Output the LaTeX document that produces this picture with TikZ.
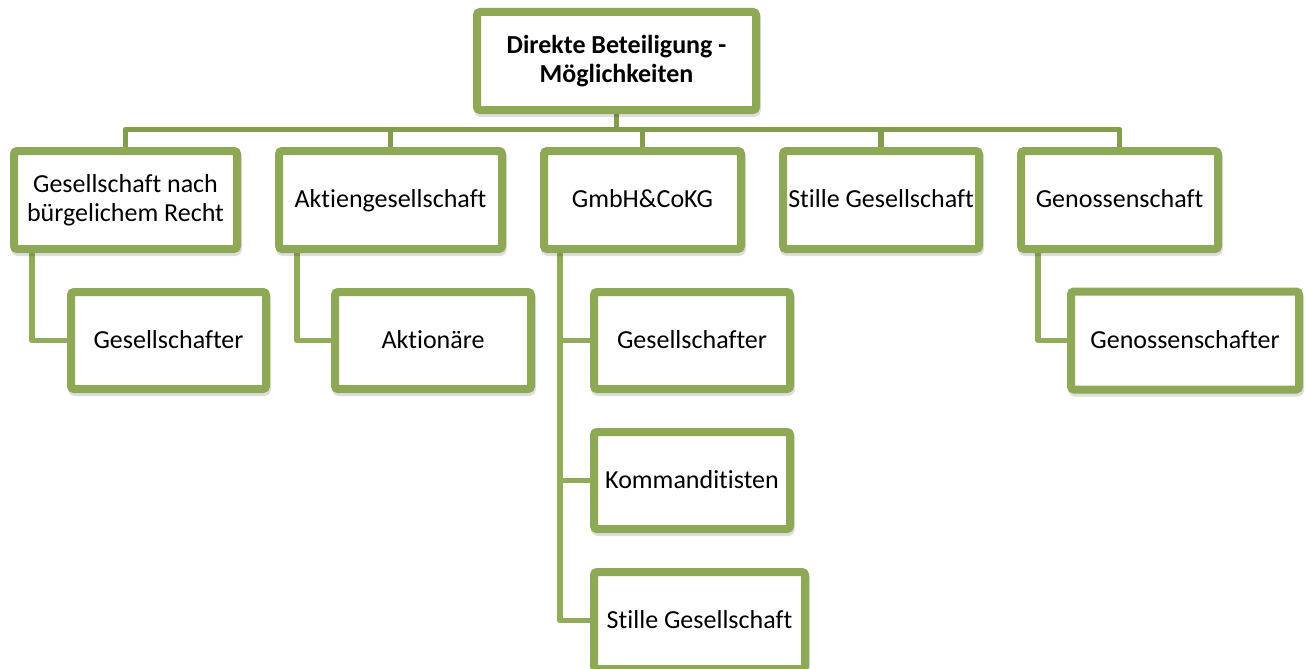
\documentclass[tikz,border=0pt]{standalone}
\usepackage{fontspec}
\setmainfont{Carlito}[Ligatures=NoCommon]
\usetikzlibrary{backgrounds,calc}
\definecolor{boxgreen}{HTML}{8DA955}
\definecolor{busgreen}{HTML}{829D4B}
\definecolor{linkgreen}{HTML}{90AC58}
\tikzset{
  orgbox/.style={draw=boxgreen, line width=8pt, fill=white, rounded corners=3pt,
    inner sep=0pt, align=center, font=\fontsize{26}{29}\selectfont,
    preaction={draw=black, draw opacity=0.13, line width=8pt,
      transform canvas={shift={(1pt,-3pt)}}}},
  oneline/.style={text height=18pt, text depth=2.5pt},
  busline/.style={draw=busgreen, line width=5.5pt, line join=round},
  childline/.style={draw=linkgreen, line width=5.5pt, line join=round},
}
\begin{document}
\begin{tikzpicture}[x=1pt,y=-1pt]
\clip (0,0) rectangle (1307,669);
% nodes
\node[orgbox, minimum width=279pt, minimum height=98pt, font=\fontsize{26}{29}\selectfont\bfseries] (top) at (616.5,61) {Direkte Beteiligung -\\Möglichkeiten};
\node[orgbox, minimum width=223pt, minimum height=98pt] (a1) at (125.5,200) {Gesellschaft nach\\bürgelichem Recht};
\node[orgbox, oneline, minimum width=223pt, minimum height=98pt] (a2) at (390.5,200) {Aktiengesellschaft};
\node[orgbox, oneline, minimum width=197pt, minimum height=98pt] (a3) at (642.5,200) {GmbH\&CoKG};
\node[orgbox, oneline, minimum width=196pt, minimum height=98pt] (a4) at (881,200) {Stille Gesellschaft};
\node[orgbox, oneline, minimum width=197pt, minimum height=98pt] (a5) at (1119.5,200) {Genossenschaft};
\node[orgbox, oneline, minimum width=195pt, minimum height=97pt] (b1) at (168.5,340.5) {Gesellschafter};
\node[orgbox, oneline, minimum width=196pt, minimum height=97pt] (b2) at (433,340.5) {Aktionäre};
\node[orgbox, oneline, minimum width=196pt, minimum height=97pt] (c1) at (692,340.5) {Gesellschafter};
\node[orgbox, oneline, minimum width=196pt, minimum height=97pt] (c2) at (692,480.5) {Kommanditisten};
\node[orgbox, oneline, minimum width=211pt, minimum height=97pt] (c3) at (699.5,620.5) {Stille Gesellschaft};
\node[orgbox, oneline, minimum width=228pt, minimum height=98pt] (d1) at (1185,340.5) {Genossenschafter};
% connectors
\begin{scope}[on background layer]
\fill[white] (0,0) rectangle (1307,669);
\coordinate (bus) at (0,129.5);
\draw[busline] (top.south) -- (top.south |- bus);
\draw[busline] (a1.north) -- (a1.north |- bus) -- (a5.north |- bus) -- (a5.north);
\draw[busline] (a2.north) -- (a2.north |- bus);
\draw[busline] (a3.north) -- (a3.north |- bus);
\draw[busline] (a4.north) -- (a4.north |- bus);
\coordinate (s1) at ([xshift=22pt]a1.south west);
\coordinate (s2) at ([xshift=22pt]a2.south west);
\coordinate (s3) at ([xshift=20pt]a3.south west);
\coordinate (s5) at ([xshift=21pt]a5.south west);
\draw[childline] (s1) |- (b1.west);
\draw[childline] (s2) |- (b2.west);
\draw[childline] (s3) |- (c3.west);
\draw[childline] (s3 |- c1.west) -- (c1.west);
\draw[childline] (s3 |- c2.west) -- (c2.west);
\draw[childline] (s5) |- (d1.west);
\end{scope}
\end{tikzpicture}
\end{document}
